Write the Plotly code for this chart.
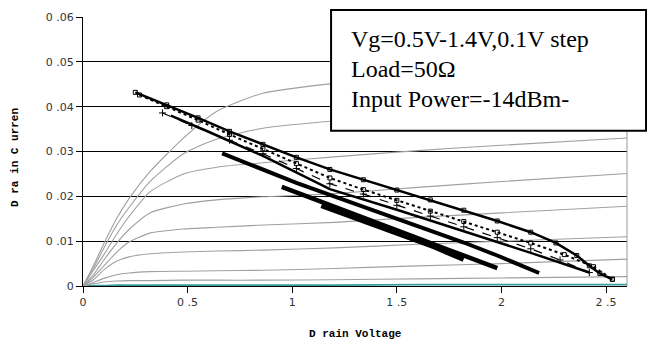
import plotly.graph_objects as go

# ---------------- data ----------------
# DC I-V curves (gray) sampled at these drain voltages
iv_v = [0, 0.05, 0.1, 0.16, 0.22, 0.32, 0.48, 0.64, 0.86, 1.2, 1.6, 2.0, 2.6]
iv_curves = [
    [0, 0.0001, 0.0001, 0.0002, 0.0002, 0.0002, 0.0002, 0.0002, 0.0002, 0.0002, 0.0003, 0.0003, 0.0003],
    [0, 0.0005, 0.0009, 0.0011, 0.0012, 0.0012, 0.0013, 0.0013, 0.0013, 0.0014, 0.0016, 0.0018, 0.0021],
    [0, 0.0008, 0.0017, 0.0025, 0.0029, 0.0032, 0.0033, 0.0034, 0.0035, 0.0039, 0.0045, 0.0050, 0.0060],
    [0, 0.0014, 0.0036, 0.0055, 0.0065, 0.0072, 0.0076, 0.0078, 0.0080, 0.0085, 0.0093, 0.0100, 0.0110],
    [0, 0.0020, 0.0045, 0.0075, 0.0098, 0.0118, 0.0127, 0.0131, 0.0136, 0.0142, 0.0153, 0.0163, 0.0178],
    [0, 0.0025, 0.0058, 0.0095, 0.0126, 0.0163, 0.0183, 0.0192, 0.0199, 0.0206, 0.0220, 0.0233, 0.0251],
    [0, 0.0035, 0.0070, 0.0115, 0.0155, 0.0210, 0.0250, 0.0265, 0.0275, 0.0288, 0.0302, 0.0314, 0.0330],
    [0, 0.0040, 0.0085, 0.0135, 0.0175, 0.0233, 0.0295, 0.0328, 0.0352, 0.0368, 0.0380, 0.0390, 0.0402],
    [0, 0.0045, 0.0095, 0.0150, 0.0195, 0.0255, 0.0330, 0.0390, 0.0430, 0.0452, 0.0468, 0.0480, 0.0495],
]

# dynamic load-line loci (black)
L1_up_V = [0.25, 0.40, 0.55, 0.70, 0.86, 1.02, 1.18, 1.34, 1.50, 1.66, 1.82, 1.98, 2.14, 2.26, 2.36, 2.42, 2.47, 2.53]
L1_up_I = [0.0432, 0.0404, 0.0375, 0.0345, 0.0316, 0.0287, 0.0260, 0.0237, 0.0214, 0.0192, 0.0169, 0.0145, 0.0120, 0.0096, 0.0068, 0.0045, 0.0028, 0.0015]
L1_lo_V = [0.27, 0.40, 0.55, 0.70, 0.86, 1.02, 1.18, 1.34, 1.50, 1.66, 1.82, 1.98, 2.14, 2.30, 2.44, 2.53]
L1_lo_I = [0.0426, 0.0400, 0.0370, 0.0338, 0.0306, 0.0273, 0.0241, 0.0215, 0.0191, 0.0167, 0.0144, 0.0120, 0.0096, 0.0070, 0.0043, 0.0015]
L2_up_V = [0.38, 0.52, 0.70, 0.86, 1.02, 1.18, 1.34, 1.50, 1.66, 1.82, 1.98, 2.14, 2.28, 2.42]
L2_up_I = [0.0386, 0.0358, 0.0325, 0.0295, 0.0262, 0.0228, 0.0205, 0.0180, 0.0156, 0.0132, 0.0108, 0.0083, 0.0058, 0.0030]
L2_lo_V = [0.42, 0.60, 0.86, 1.18, 1.50, 1.82, 2.14, 2.42]
L2_lo_I = [0.0380, 0.0344, 0.0290, 0.0216, 0.0170, 0.0122, 0.0074, 0.0030]
L3_V = [0.665, 0.86, 1.02, 1.18, 1.34, 1.50, 1.66, 1.82, 1.98, 2.10, 2.18]
L3_I = [0.0296, 0.0259, 0.0230, 0.0203, 0.0177, 0.0150, 0.0124, 0.0097, 0.0068, 0.0045, 0.0029]
L4_V = [0.95, 1.10, 1.26, 1.42, 1.58, 1.74, 1.88, 1.98]
L4_I = [0.0221, 0.0194, 0.0166, 0.0138, 0.0110, 0.0082, 0.0058, 0.0040]
L5_V = [1.14, 1.26, 1.40, 1.54, 1.68, 1.82]
L5_I = [0.0180, 0.0160, 0.0137, 0.0113, 0.0088, 0.0060]

y_ticks = [0, 0.01, 0.02, 0.03, 0.04, 0.05, 0.06]
y_ticktext = ["0", "0 .01", "0 .02", "0 .03", "0 .04", "0 .05", "0 .06"]
x_ticks = [0, 0.5, 1, 1.5, 2, 2.5]
x_ticktext = ["0", "0 .5", "1", "1 .5", "2", "2 .5"]

box_lines = ["Vg=0.5V-1.4V,0.1V step", "Load=50\u03a9", "Input Power=-14dBm-"]
x_title = "D rain Voltage"
y_title = "D ra in C urren"

# ---------------- figure ----------------
fig = go.Figure()

for i, cur in enumerate(iv_curves):
    fig.add_trace(go.Scatter(
        x=iv_v, y=cur, mode="lines",
        line=dict(color="#3a9c9c" if i == 0 else "#a0a0a0", width=1.6 if i == 0 else 1.1,
                  shape="spline", smoothing=0.6),
        showlegend=False, hoverinfo="skip"))

def locus(xv, yv, width, symbol=None, dash="solid", msize=4):
    fig.add_trace(go.Scatter(
        x=xv, y=yv, mode="lines+markers" if symbol else "lines",
        line=dict(color="black", width=width, dash=dash),
        marker=dict(symbol=symbol or "circle", size=msize, color="black",
                    line=dict(color="black", width=1)),
        showlegend=False, hoverinfo="skip"))

locus(L5_V, L5_I, 6)
locus(L4_V, L4_I, 4.5)
locus(L3_V, L3_I, 4)
locus(L2_lo_V, L2_lo_I, 2.5)
locus(L2_up_V, L2_up_I, 1.2, symbol="cross-thin-open", dash="dash", msize=5)
locus(L1_lo_V, L1_lo_I, 2, symbol="square-open", dash="dot", msize=4)
locus(L1_up_V, L1_up_I, 2.5, symbol="square-open", msize=4)

tick_font = dict(family="DejaVu Sans", size=11, color="#333333")

fig.update_xaxes(
    range=[0, 2.6], tickvals=x_ticks, ticktext=x_ticktext,
    showgrid=False, zeroline=False, showline=True, linecolor="black", linewidth=1,
    ticks="outside", ticklen=6, tickcolor="black", tickfont=tick_font)
fig.update_yaxes(
    range=[0, 0.06], tickvals=y_ticks, ticktext=y_ticktext,
    showgrid=True, gridcolor="#000000", gridwidth=1,
    zeroline=False, showline=True, linecolor="black", linewidth=1,
    ticks="outside", ticklen=6, tickcolor="black", tickfont=tick_font)

fig.add_shape(type="line", xref="paper", yref="paper", x0=1, x1=1, y0=0, y1=1,
              line=dict(color="#999999", width=1))

# text box
fig.add_shape(type="rect", xref="paper", yref="paper",
              x0=0.456, x1=1.035, y0=0.577, y1=1.026,
              line=dict(color="black", width=2), fillcolor="white", layer="above")
for k, (t, yy) in enumerate(zip(box_lines, [0.92, 0.806, 0.694])):
    fig.add_annotation(text=t, xref="paper", yref="paper", x=0.489, y=yy,
                       xanchor="left", yanchor="middle", showarrow=False,
                       font=dict(family="Liberation Serif", size=24, color="black"))

title_font = dict(family="Liberation Mono", size=11, color="black", weight="bold")
fig.add_annotation(text=x_title, xref="paper", yref="paper", x=0.5, y=-0.178,
                   xanchor="center", yanchor="middle", showarrow=False, font=title_font)
fig.add_annotation(text=y_title, xref="paper", yref="paper", x=-0.125, y=0.476,
                   xanchor="center", yanchor="middle", showarrow=False, textangle=-90,
                   font=title_font)

fig.update_layout(
    width=647, height=345,
    margin=dict(l=83, r=20, t=17, b=59),
    paper_bgcolor="white", plot_bgcolor="white",
    showlegend=False)

fig.write_html("out.html")
